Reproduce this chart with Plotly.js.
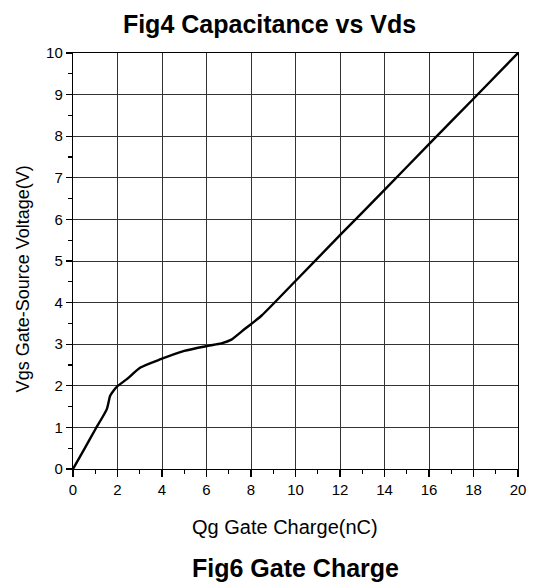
<!DOCTYPE html>
<html><head><meta charset="utf-8">
<script src="https://cdn.plot.ly/plotly-3.0.1.min.js"></script>
<style>body{margin:0;background:#fff}#c{width:539px;height:586px}</style>
</head><body><div id="c"></div>
<script>
const qg = [0, 0.5, 1.0, 1.52, 1.67, 1.82, 2.0, 2.42, 3.03, 3.94, 5.0, 6.06, 6.67, 7.12, 7.73, 8.48, 10, 12, 14, 16, 18, 20];
const vgs = [0, 0.47, 0.95, 1.44, 1.76, 1.88, 1.99, 2.16, 2.44, 2.64, 2.84, 2.96, 3.02, 3.11, 3.37, 3.69, 4.52, 5.62, 6.71, 7.81, 8.90, 10];
const xTickStep = 2;
const yTickStep = 1;
const titleTop = "Fig4 Capacitance vs Vds";
const titleBottom = "Fig6 Gate Charge";
const xLabel = "Qg Gate Charge(nC)";
const yLabel = "Vgs Gate-Source Voltage(V)";

const sans = "Liberation Sans, Arial, sans-serif";
const tickFont = {family: sans, size: 15, color: "#000"};
Plotly.newPlot("c", [{
  x: qg, y: vgs, mode: "lines", line: {color: "#000", width: 2.4, shape: "spline", smoothing: 0.6}, hoverinfo: "none"
}], {
  width: 539, height: 586,
  margin: {l: 73, r: 21, t: 53, b: 117},
  paper_bgcolor: "#fff", plot_bgcolor: "#fff",
  showlegend: false,
  title: {text: "<b>" + titleTop + "</b>", font: {family: sans, size: 25, color: "#000"}, x: 0.5, xanchor: "center", y: 0.958, yanchor: "middle"},
  xaxis: {
    range: [0, 20], tickmode: "linear", tick0: 0, dtick: xTickStep,
    showgrid: true, gridcolor: "#333", gridwidth: 1,
    showline: true, linecolor: "#000", linewidth: 1.2, mirror: true,
    ticks: "outside", ticklen: 7, tickwidth: 1.2, tickcolor: "#000",
    minor: {dtick: xTickStep / 2, ticks: "outside", ticklen: 4, tickwidth: 1.2, tickcolor: "#000", showgrid: false},
    tickfont: tickFont, zeroline: false
  },
  yaxis: {
    range: [0, 10], tickmode: "linear", tick0: 0, dtick: yTickStep,
    showgrid: true, gridcolor: "#333", gridwidth: 1,
    showline: true, linecolor: "#000", linewidth: 1.2, mirror: true,
    ticks: "outside", ticklen: 6, tickwidth: 1.2, tickcolor: "#000",
    minor: {dtick: yTickStep / 2, ticks: "outside", ticklen: 4, tickwidth: 1.2, tickcolor: "#000", showgrid: false},
    tickfont: tickFont, zeroline: false
  },
  annotations: [{
    text: xLabel, xref: "paper", yref: "paper", x: 0.476, y: -0.139, xanchor: "center", yanchor: "middle",
    showarrow: false, font: {family: sans, size: 20, color: "#000"}
  }, {
    text: yLabel, xref: "paper", yref: "paper", x: -0.1135, y: 0.457, xanchor: "center", yanchor: "middle", textangle: -90,
    showarrow: false, font: {family: sans, size: 18, color: "#000"}
  }, {
    text: "<b>" + titleBottom + "</b>", xref: "paper", yref: "paper", x: 0.5, y: -0.238, xanchor: "center", yanchor: "middle",
    showarrow: false, font: {family: sans, size: 25, color: "#000"}
  }]
}, {staticPlot: true});
</script></body></html>
